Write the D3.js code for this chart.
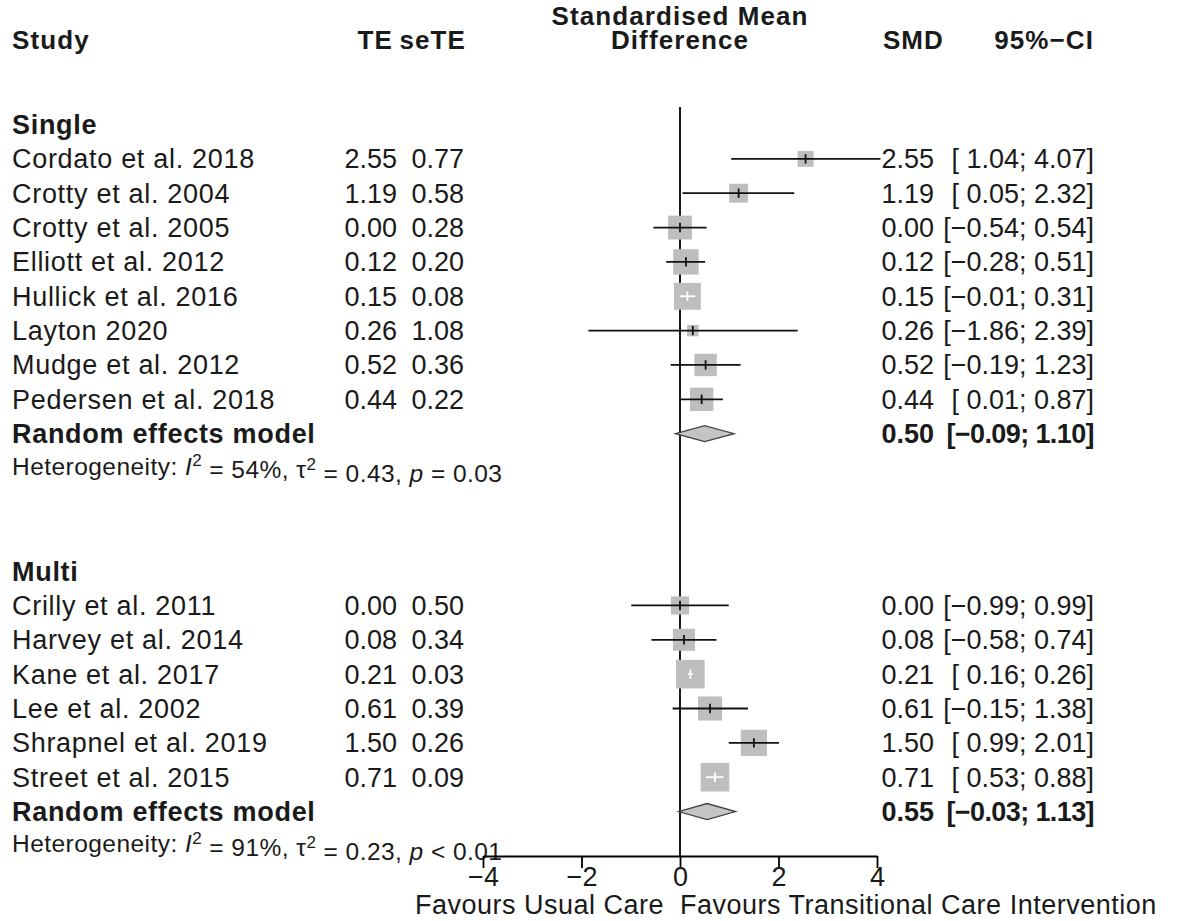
<!DOCTYPE html>
<html>
<head>
<meta charset="utf-8">
<script src="https://cdn.jsdelivr.net/npm/d3@7"></script>
<style>
  html, body { margin: 0; padding: 0; background: #fff; }
  svg { display: block; font-family: "Liberation Sans", Arial, sans-serif; }
  .txt { font-size: 27px; fill: #1a1a1a; }
  .bold { font-weight: bold; }
  .word { letter-spacing: 0.7px; }
  .head { font-size: 26px; letter-spacing: 1.1px; }
  .het { font-size: 24.5px; fill: #1a1a1a; letter-spacing: 0.45px; }
</style>
</head>
<body>
<svg id="forest" width="1179" height="921"></svg>
<script>
// forest plot - SMD by subgroup (Single / Multi)

const groupNames = ["Single", "Multi"];

const studyNames = [
  "Cordato et al. 2018", "Crotty et al. 2004", "Crotty et al. 2005", "Elliott et al. 2012",
  "Hullick et al. 2016", "Layton 2020", "Mudge et al. 2012", "Pedersen et al. 2018",
  "Crilly et al. 2011", "Harvey et al. 2014", "Kane et al. 2017", "Lee et al. 2002",
  "Shrapnel et al. 2019", "Street et al. 2015"
];
const studyGroup = [0, 0, 0, 0, 0, 0, 0, 0, 1, 1, 1, 1, 1, 1];
const te    = [2.55, 1.19, 0.00, 0.12, 0.15, 0.26, 0.52, 0.44, 0.00, 0.08, 0.21, 0.61, 1.50, 0.71];
const seTE  = [0.77, 0.58, 0.28, 0.20, 0.08, 1.08, 0.36, 0.22, 0.50, 0.34, 0.03, 0.39, 0.26, 0.09];
const lower = [1.04, 0.05, -0.54, -0.28, -0.01, -1.86, -0.19, 0.01, -0.99, -0.58, 0.16, -0.15, 0.99, 0.53];
const upper = [4.07, 2.32, 0.54, 0.51, 0.31, 2.39, 1.23, 0.87, 0.99, 0.74, 0.26, 1.38, 2.01, 0.88];
const weight = [6.8, 9.6, 15.3, 17.3, 19.4, 3.5, 13.5, 14.7, 8.8, 13.1, 22.0, 15.6, 18.4, 22.0];

const pooledTE    = [0.50, 0.55];
const pooledLower = [-0.09, -0.03];
const pooledUpper = [1.10, 1.13];
const hetI2   = ["54%", "91%"];
const hetTau2 = ["0.43", "0.23"];
const hetP    = ["= 0.03", "< 0.01"];

const axisTicks = [-4, -2, 0, 2, 4];
const labelLeft = "Favours Usual Care";
const labelRight = "Favours Transitional Care Intervention";

const svg = d3.select("#forest");
const fmt = d3.format(".2f");
const minus = s => s.replace(/-/g, "\u2212");
const ci = (l, u) => minus("[" + (l < 0 ? "" : " ") + fmt(l) + "; " + fmt(u) + "]");

// row layout
const rows = [];
groupNames.forEach((g, gi) => {
  if (gi > 0) { rows.push({ type: "blank" }); rows.push({ type: "blank" }); }
  rows.push({ type: "group", g: gi });
  studyNames.forEach((s, i) => { if (studyGroup[i] === gi) rows.push({ type: "study", i }); });
  rows.push({ type: "pooled", g: gi });
  rows.push({ type: "het", g: gi });
});
rows.forEach((r, k) => r.k = k);

const y = d3.scaleLinear().domain([0, rows.length - 1]).range([124.5, 845.9]);
const x = d3.scaleLinear().domain([-4, 4]).range([483, 877]);
const side = d3.scaleSqrt().domain([0, 100]).range([0, 61]);

const col = { study: 12, te: 397, se: 464, smd: 934, ci: 1094 };
const axisY = 856;

// header
svg.append("text").attr("class", "txt bold head").attr("x", x(0)).attr("y", 24.5)
  .attr("text-anchor", "middle").text("Standardised Mean");
const head = [
  { t: "Study", x: col.study, a: "start" },
  { t: "TE", x: col.te - 4, a: "end" },
  { t: "seTE", x: col.se + 2, a: "end" },
  { t: "Difference", x: x(0), a: "middle" },
  { t: "SMD", x: col.smd + 10, a: "end" },
  { t: "95%\u2212CI", x: col.ci, a: "end" }
];
svg.append("g").selectAll("text").data(head).join("text")
  .attr("class", "txt bold head").attr("x", d => d.x).attr("y", 49)
  .attr("text-anchor", d => d.a).text(d => d.t);

// reference line
svg.append("line").attr("x1", x(0)).attr("x2", x(0)).attr("y1", 107).attr("y2", axisY)
  .attr("stroke", "#000").attr("stroke-width", 1.8);

const g = svg.append("g");

rows.forEach(r => {
  const cy = y(r.k);
  if (r.type === "group") {
    g.append("text").attr("class", "txt bold word").attr("x", col.study).attr("y", cy).attr("dy", "0.35em")
      .text(groupNames[r.g]);
  } else if (r.type === "study") {
    const i = r.i;
    const s = side(weight[i]);
    const inside = x(lower[i]) >= x(te[i]) - s / 2 && x(upper[i]) <= x(te[i]) + s / 2;
    const lc = inside ? "#fff" : "#111";
    g.append("rect").attr("x", x(te[i]) - s / 2).attr("y", cy - s / 2)
      .attr("width", s).attr("height", s).attr("fill", "#bebebe");
    g.append("line").attr("x1", x(lower[i])).attr("x2", x(upper[i])).attr("y1", cy).attr("y2", cy)
      .attr("stroke", lc).attr("stroke-width", 1.8);
    g.append("line").attr("x1", x(te[i])).attr("x2", x(te[i])).attr("y1", cy - 4.7).attr("y2", cy + 4.7)
      .attr("stroke", lc).attr("stroke-width", 1.8);
    const cells = [
      { t: studyNames[i], x: col.study, a: "start", c: "txt word" },
      { t: fmt(te[i]), x: col.te, a: "end", c: "txt" },
      { t: fmt(seTE[i]), x: col.se, a: "end", c: "txt" },
      { t: fmt(te[i]), x: col.smd, a: "end", c: "txt" },
      { t: ci(lower[i], upper[i]), x: col.ci, a: "end", c: "txt" }
    ];
    cells.forEach(c => g.append("text").attr("class", c.c).attr("x", c.x).attr("y", cy)
      .attr("dy", "0.35em").attr("text-anchor", c.a).text(c.t));
  } else if (r.type === "pooled") {
    const gi = r.g;
    const pts = [[x(pooledLower[gi]), cy], [x(pooledTE[gi]), cy - 8], [x(pooledUpper[gi]), cy], [x(pooledTE[gi]), cy + 8]];
    g.append("path").attr("d", d3.line()(pts) + "Z").attr("fill", "#c4c4c4")
      .attr("stroke", "#444").attr("stroke-width", 1.3);
    g.append("text").attr("class", "txt bold word").attr("x", col.study).attr("y", cy).attr("dy", "0.35em")
      .text("Random effects model");
    g.append("text").attr("class", "txt bold").attr("x", col.smd).attr("y", cy).attr("dy", "0.35em")
      .attr("text-anchor", "end").text(fmt(pooledTE[gi]));
    g.append("text").attr("class", "txt bold").attr("x", col.ci).attr("y", cy).attr("dy", "0.35em")
      .attr("text-anchor", "end").style("letter-spacing", "-0.6px").text(ci(pooledLower[gi], pooledUpper[gi]));
  } else if (r.type === "het") {
    const gi = r.g;
    const t = g.append("text").attr("class", "het").attr("x", col.study).attr("y", cy - 2).attr("dy", "0.35em");
    t.append("tspan").text("Heterogeneity: ");
    t.append("tspan").attr("font-style", "italic").text("I");
    t.append("tspan").attr("dy", "-0.5em").attr("font-size", "17px").text("2");
    t.append("tspan").attr("dy", "0.5em").text(" = " + hetI2[gi] + ", \u03c4");
    t.append("tspan").attr("dy", "-0.5em").attr("font-size", "17px").text("2");
    t.append("tspan").attr("dy", "0.5em").text(" = " + hetTau2[gi] + ", ");
    t.append("tspan").attr("font-style", "italic").text("p");
    t.append("tspan").text(" " + hetP[gi]);
  }
});

// x axis
const axis = d3.axisBottom(x).tickValues(axisTicks).tickSize(12).tickSizeOuter(0).tickPadding(0)
  .tickFormat(d => minus(String(d)));
const ax = svg.append("g").attr("transform", `translate(0,${axisY})`).call(axis);
ax.select(".domain").attr("stroke", "#000").attr("stroke-width", 1.8);
ax.selectAll(".tick line").attr("stroke", "#000").attr("stroke-width", 1.8);
ax.selectAll(".tick text").attr("font-size", null).attr("font-family", null)
  .attr("y", 29.5).attr("dy", null)
  .style("font-size", "27px").attr("fill", "#1a1a1a");

svg.append("text").attr("class", "txt").style("letter-spacing", "0.5px")
  .attr("x", x(0) - 16).attr("y", 914).attr("text-anchor", "end").text(labelLeft);
svg.append("text").attr("class", "txt").style("letter-spacing", "0.5px")
  .attr("x", x(0)).attr("y", 914).text(labelRight);
</script>
</body>
</html>
